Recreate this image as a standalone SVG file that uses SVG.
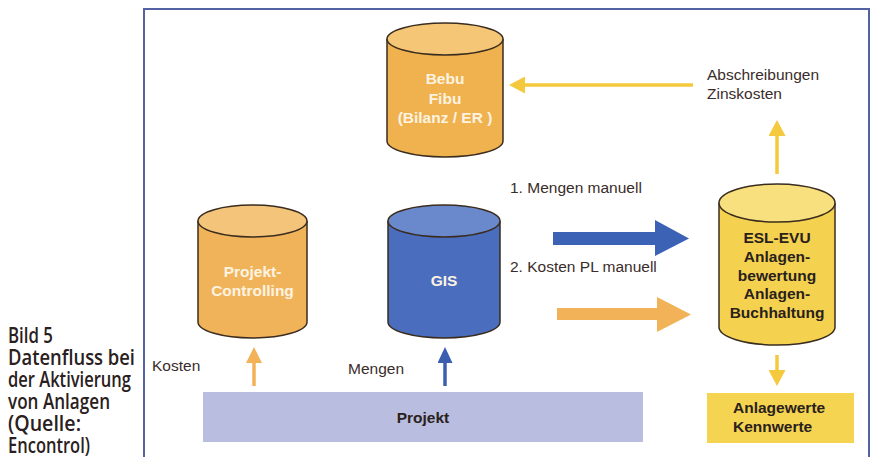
<svg xmlns="http://www.w3.org/2000/svg" width="875" height="457" viewBox="0 0 875 457">
<style>
.lbl{font-family:"Liberation Sans",Arial,sans-serif;font-size:15.5px;fill:#3a2c2a}
.wb{font-family:"Liberation Sans",Arial,sans-serif;font-size:15.5px;font-weight:bold;fill:#fdf3e2;text-anchor:middle}
.db{font-family:"Liberation Sans",Arial,sans-serif;font-size:15.5px;font-weight:bold;fill:#2a211c}
.cap{font-family:"Open Sans","DejaVu Sans",sans-serif;font-size:21px;font-weight:600;fill:#2a2020}
.outline{stroke:#3a2c1e;stroke-width:1.5}
.ya{stroke:#f5c93e;stroke-width:3.5;fill:none}
.oa{stroke:#f2b257;stroke-width:3.5;fill:none}
.ba{stroke:#3b5fb0;stroke-width:3.5;fill:none}
</style>
<defs>
<marker id="hy" markerUnits="userSpaceOnUse" markerWidth="16" markerHeight="17" viewBox="0 0 16 17" refX="5" refY="8.5" orient="auto"><path d="M0,0 L16,8.5 L0,17 z" fill="#f5c93e"/></marker>
<marker id="ho" markerUnits="userSpaceOnUse" markerWidth="16" markerHeight="16" viewBox="0 0 16 16" refX="5" refY="8" orient="auto"><path d="M0,0 L16,8 L0,16 z" fill="#f2b257"/></marker>
<marker id="hb" markerUnits="userSpaceOnUse" markerWidth="16" markerHeight="15" viewBox="0 0 16 15" refX="5" refY="7.5" orient="auto"><path d="M0,0 L16,7.5 L0,15 z" fill="#3b5fb0"/></marker>
</defs>
<rect width="875" height="457" fill="#ffffff"/>
<!-- frame -->
<path d="M144,470 V9 H869 V470" fill="none" stroke="#5262a2" stroke-width="2"/>
<!-- caption -->
<g id="caption">
<text class="cap" x="8" y="343" textLength="45" lengthAdjust="spacingAndGlyphs">Bild 5</text>
<text class="cap" x="8" y="365" textLength="127" lengthAdjust="spacingAndGlyphs">Datenfluss bei</text>
<text class="cap" x="8" y="387" textLength="123" lengthAdjust="spacingAndGlyphs">der Aktivierung</text>
<text class="cap" x="8" y="409" textLength="102" lengthAdjust="spacingAndGlyphs">von Anlagen</text>
<text class="cap" x="8" y="431" textLength="73" lengthAdjust="spacingAndGlyphs">(Quelle:</text>
<text class="cap" x="8" y="453" textLength="82" lengthAdjust="spacingAndGlyphs">Encontrol)</text>
</g>
<!-- connectors -->
<g id="connectors">
<line class="ya" x1="693" y1="85" x2="520" y2="85" marker-end="url(#hy)"/>
<line class="ya" x1="777" y1="174" x2="777" y2="131" marker-end="url(#hy)"/>
<line class="ya" x1="777" y1="355" x2="777" y2="375" marker-end="url(#hy)"/>
<line class="oa" x1="254" y1="386" x2="254" y2="358" marker-end="url(#ho)"/>
<line class="ba" x1="445" y1="386" x2="445" y2="358" marker-end="url(#hb)"/>
<polygon points="553,232 655,232 655,220 689,238.5 655,256 655,245 553,245" fill="#3b62b4"/>
<polygon points="557,308 657,308 657,297 691,314.5 657,332 657,320 557,320" fill="#f2b257"/>
</g>
<!-- labels -->
<g id="labels">
<text class="lbl" x="707" y="80">Abschreibungen</text>
<text class="lbl" x="707" y="99">Zinskosten</text>
<text class="lbl" x="510" y="193">1. Mengen manuell</text>
<text class="lbl" x="510" y="272">2. Kosten PL manuell</text>
<text class="lbl" x="152" y="371">Kosten</text>
<text class="lbl" x="348" y="374">Mengen</text>
</g>
<!-- Bebu / Fibu -->
<g id="bebu">
<path class="outline" d="M387,39 V141 A58,16 0 0 0 503,141 V39" fill="#efb24e"/>
<ellipse class="outline" cx="445" cy="39" rx="58" ry="16" fill="#f4c676"/>
<text class="wb" x="445" y="84">Bebu</text>
<text class="wb" x="445" y="104">Fibu</text>
<text class="wb" x="445" y="123">(Bilanz / ER )</text>
</g>
<!-- Projekt-Controlling -->
<g id="projektcontrolling">
<path class="outline" d="M198,221 V322 A54.5,16 0 0 0 307,322 V221" fill="#f0b35a"/>
<ellipse class="outline" cx="252.5" cy="221" rx="54.5" ry="16" fill="#f4c47a"/>
<text class="wb" x="252.5" y="277">Projekt-</text>
<text class="wb" x="252.5" y="296">Controlling</text>
</g>
<!-- GIS -->
<g id="gis">
<path class="outline" d="M388,221 V322 A56,16 0 0 0 500,322 V221" fill="#4a6dbd"/>
<ellipse class="outline" cx="444" cy="221" rx="56" ry="16" fill="#6a88cc"/>
<text class="wb" x="444" y="286">GIS</text>
</g>
<!-- ESL-EVU -->
<g id="esl">
<path class="outline" d="M719,203 V327 A58,18 0 0 0 835,327 V203" fill="#f4d250"/>
<ellipse class="outline" cx="777" cy="203" rx="58" ry="19" fill="#f8e07e"/>
<text class="db" x="777" y="243" text-anchor="middle">ESL-EVU</text>
<text class="db" x="777" y="262" text-anchor="middle">Anlagen-</text>
<text class="db" x="777" y="281" text-anchor="middle">bewertung</text>
<text class="db" x="777" y="299" text-anchor="middle">Anlagen-</text>
<text class="db" x="777" y="318" text-anchor="middle">Buchhaltung</text>
</g>
<!-- Projekt -->
<g id="projekt">
<rect x="203" y="392" width="440" height="50" fill="#b9bde0"/>
<text class="db" x="423" y="423" text-anchor="middle">Projekt</text>
</g>
<!-- Anlagewerte -->
<g id="anlagewerte">
<rect x="707" y="393" width="147" height="50" fill="#f5d452"/>
<text class="db" x="733" y="413">Anlagewerte</text>
<text class="db" x="733" y="432">Kennwerte</text>
</g>
</svg>
